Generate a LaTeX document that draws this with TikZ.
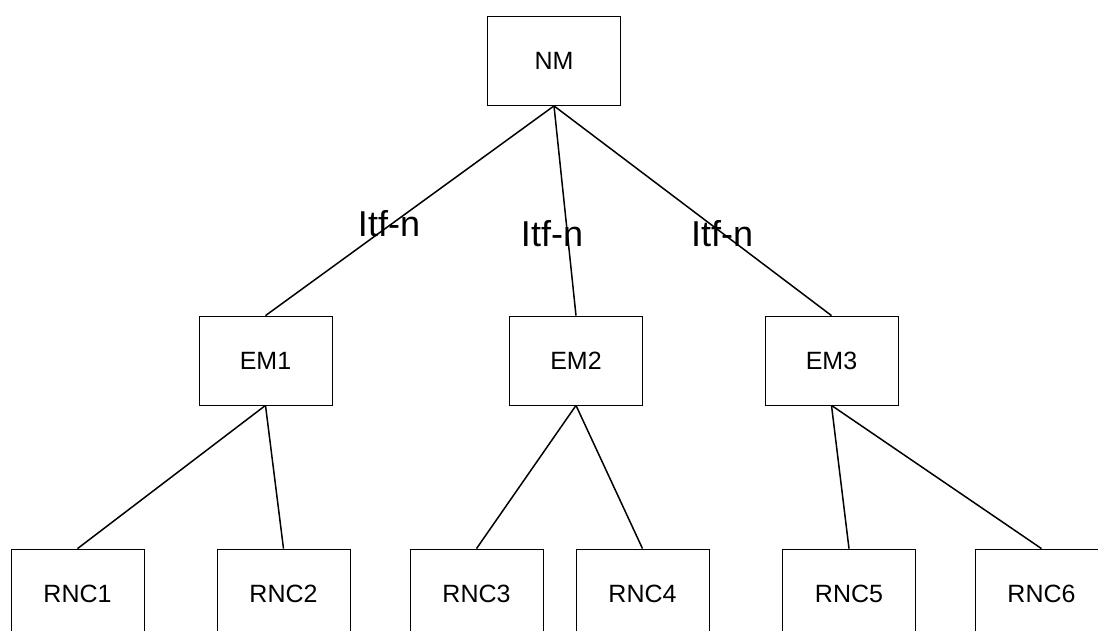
\documentclass[tikz,border=0pt]{standalone}
\usepackage{fontspec}
\setmainfont{Liberation Sans}
\usetikzlibrary{arrows}
\usetikzlibrary{shapes}

\begin{document}
\begin{tikzpicture}[-,x=1pt,y=-1pt,line width=1.5pt,
  box/.style={draw,rectangle,line width=0.8pt,minimum width=133pt,minimum height=89pt,inner sep=0pt,font=\fontsize{25}{29}\selectfont},
  itf/.style={font=\fontsize{36}{40}\selectfont,inner sep=0pt,anchor=base}]
  \clip (0,0) rectangle (1098,630);
  \node[box]		(NM)   at (554,61)     {NM};
  \node[box]		(EM1)  at (265.5,360.5) {EM1};
  \node[box]		(EM2)  at (576,360.5)   {EM2};
  \node[box]		(EM3)  at (831.5,360.5) {EM3};
  \node[box]		(RNC1) at (77.5,593.5)  {RNC1};
  \node[box]		(RNC2) at (283.5,593.5) {RNC2};
  \node[box]		(RNC3) at (476.5,593.5) {RNC3};
  \node[box]		(RNC4) at (642.5,593.5) {RNC4};
  \node[box]		(RNC5) at (849,593.5)   {RNC5};
  \node[box]		(RNC6) at (1041.5,593.5) {RNC6};

  \path 	(NM.south) edge (EM1.north)
		(NM.south) edge (EM2.north)
		(NM.south) edge (EM3.north)
		(EM1.south) edge (RNC1.north)
		(EM1.south) edge (RNC2.north)
		(EM2.south) edge (RNC3.north)
		(EM2.south) edge (RNC4.north)
		(EM3.south) edge (RNC5.north)
		(EM3.south) edge (RNC6.north);

  \node[itf]		(I1) at (389,236) {Itf-n};
  \node[itf]		(I2) at (552,246) {Itf-n};
  \node[itf]		(I3) at (722,246) {Itf-n};
\end{tikzpicture}
\end{document}
